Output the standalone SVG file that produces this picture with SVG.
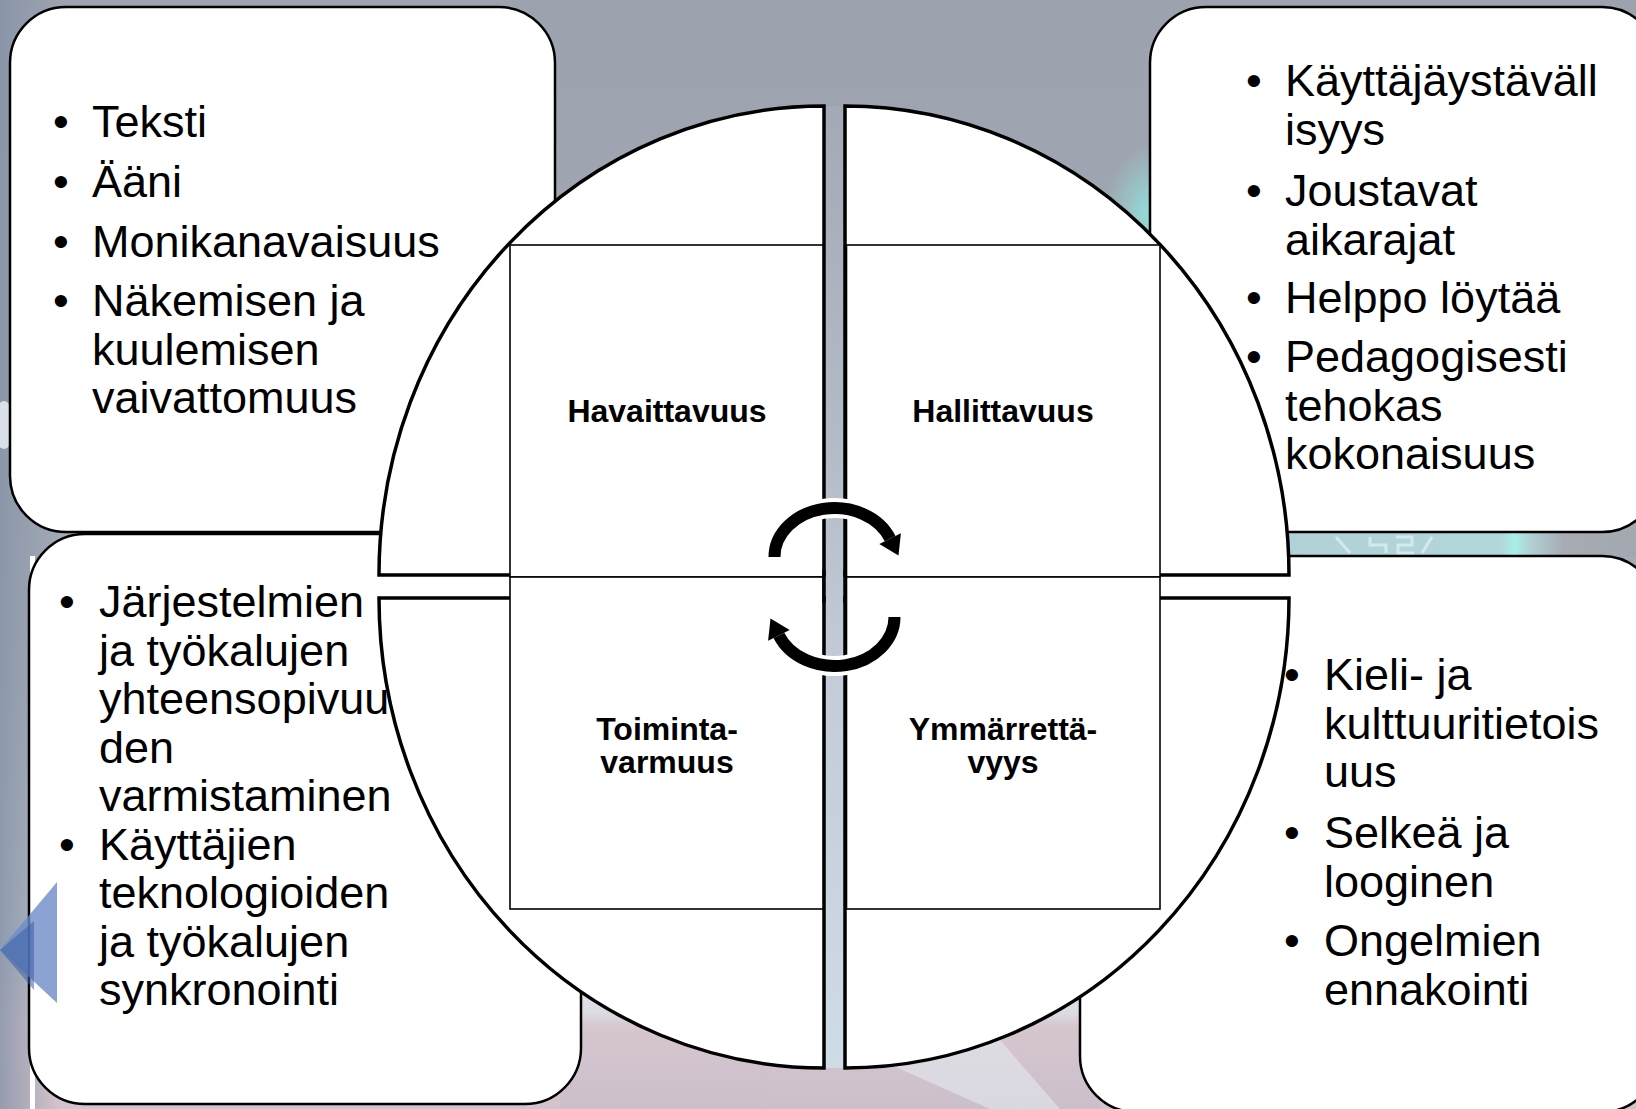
<svg xmlns="http://www.w3.org/2000/svg" width="1636" height="1109" viewBox="0 0 1636 1109">
<style>
  .box { fill:#ffffff; stroke:#000000; stroke-width:2.5; }
  .quad { fill:#ffffff; stroke:#000000; stroke-width:3.5; stroke-linejoin:miter; }
  .sq { fill:#ffffff; stroke:#000000; stroke-width:1.6; }
  .edge { stroke:#000000; stroke-width:3.5; }
  .bt { font-family:"Liberation Sans", Arial, sans-serif; font-size:45px; fill:#000000; }
  .bu { font-family:"Liberation Sans", Arial, sans-serif; font-size:45px; fill:#000000; text-anchor:middle; }
  .lbl { font-family:"Liberation Sans", Arial, sans-serif; font-size:32px; font-weight:bold; fill:#000000; text-anchor:middle; }
  .arc { fill:none; stroke:#000000; stroke-width:12; stroke-linecap:butt; }
  .halo { fill:none; stroke:#ffffff; stroke-width:20; stroke-linecap:butt; }
  .head { fill:#000000; }
  .headhalo { fill:#ffffff; stroke:#ffffff; stroke-width:8; stroke-linejoin:round; }
</style>
<defs>
  <linearGradient id="bgV" x1="0" y1="0" x2="0" y2="1">
    <stop offset="0" stop-color="#9ca3ae"/>
    <stop offset="0.55" stop-color="#a4abb6"/>
    <stop offset="0.86" stop-color="#b8bfcb"/>
    <stop offset="0.92" stop-color="#d6c6ce"/>
    <stop offset="1" stop-color="#d3c3cc"/>
  </linearGradient>
  <linearGradient id="leftSide" x1="0" y1="0" x2="1" y2="0">
    <stop offset="0" stop-color="#8592a6" stop-opacity="0.8"/>
    <stop offset="1" stop-color="#8592a6" stop-opacity="0"/>
  </linearGradient>
  <linearGradient id="bar" x1="0" y1="0" x2="0" y2="1">
    <stop offset="0" stop-color="#a3aab5"/>
    <stop offset="0.35" stop-color="#b3bbc6"/>
    <stop offset="0.6" stop-color="#c3ccd7"/>
    <stop offset="1" stop-color="#cfdbe7"/>
  </linearGradient>
  <radialGradient id="glow" cx="0.5" cy="0.5" r="0.5">
    <stop offset="0" stop-color="#8ff0e8" stop-opacity="0.75"/>
    <stop offset="1" stop-color="#8ff0e8" stop-opacity="0"/>
  </radialGradient>
  <linearGradient id="bottomBg" x1="0" y1="0" x2="0" y2="1">
    <stop offset="0" stop-color="#e0e4ec"/>
    <stop offset="0.35" stop-color="#dcdce4"/>
    <stop offset="0.45" stop-color="#d6c6ce"/>
    <stop offset="1" stop-color="#cbbfcb"/>
  </linearGradient>
  <linearGradient id="gapStrip" x1="0" y1="0" x2="1" y2="0">
    <stop offset="0" stop-color="#b0d2d6"/>
    <stop offset="0.62" stop-color="#b2d6da"/>
    <stop offset="0.66" stop-color="#a6f0e6"/>
    <stop offset="0.7" stop-color="#b4d0d4"/>
    <stop offset="0.8" stop-color="#a6abb4"/>
    <stop offset="1" stop-color="#a2a7b0"/>
  </linearGradient>
</defs>

<g id="background">
  <rect x="0" y="0" width="1636" height="1109" fill="url(#bgV)"/>
  <rect x="0" y="0" width="60" height="1109" fill="url(#leftSide)"/>
  <ellipse cx="4" cy="425" rx="10" ry="24" fill="#e8ecf2" opacity="0.85"/>
  <rect x="560" y="960" width="540" height="149" fill="url(#bottomBg)"/>
  <polygon points="880,1060 1000,1040 1060,1109 990,1109" fill="#e6ecf2" opacity="0.55"/>
  <rect x="824" y="106" width="21" height="962" fill="url(#bar)"/>
  <ellipse cx="1150" cy="215" rx="45" ry="70" fill="url(#glow)"/>
  <rect x="1280" y="531" width="356" height="26" fill="url(#gapStrip)"/>
  <g fill="none" stroke="#e4f2f4" stroke-width="3" opacity="0.7">
    <path d="M1336 537 L1350 553"/>
    <path d="M1370 537 L1370 545 L1386 545 L1386 553"/>
    <path d="M1396 537 L1412 537 L1412 545 L1398 545 L1398 553 L1414 553"/>
    <path d="M1432 537 L1422 553"/>
  </g>
  <rect x="30" y="556" width="5" height="553" fill="#ffffff"/>
</g>

<g id="box-top-left">
  <rect class="box" x="10" y="7" width="545" height="525" rx="56" ry="56"/>
  <text class="bu" x="61" y="137">•</text>
  <text class="bt" x="92" y="137">Teksti</text>
  <text class="bu" x="61" y="196.5">•</text>
  <text class="bt" x="92" y="196.5">Ääni</text>
  <text class="bu" x="61" y="257">•</text>
  <text class="bt" x="92" y="257">Monikanavaisuus</text>
  <text class="bu" x="61" y="316">•</text>
  <text class="bt" x="92" y="316">Näkemisen ja</text>
  <text class="bt" x="92" y="364.6">kuulemisen</text>
  <text class="bt" x="92" y="413.2">vaivattomuus</text>
</g>

<g id="box-top-right">
  <rect class="box" x="1150" y="7" width="508" height="525" rx="56" ry="56"/>
  <text class="bu" x="1254" y="96">•</text>
  <text class="bt" x="1285" y="96">Käyttäjäystäväll</text>
  <text class="bt" x="1285" y="144.6">isyys</text>
  <text class="bu" x="1254" y="206">•</text>
  <text class="bt" x="1285" y="206">Joustavat</text>
  <text class="bt" x="1285" y="254.6">aikarajat</text>
  <text class="bu" x="1254" y="313">•</text>
  <text class="bt" x="1285" y="313">Helppo löytää</text>
  <text class="bu" x="1254" y="372">•</text>
  <text class="bt" x="1285" y="372">Pedagogisesti</text>
  <text class="bt" x="1285" y="420.6">tehokas</text>
  <text class="bt" x="1285" y="469.2">kokonaisuus</text>
</g>

<g id="box-bottom-left">
  <rect class="box" x="29" y="534" width="552" height="570" rx="56" ry="56"/>
  <text class="bu" x="67" y="617">•</text>
  <text class="bt" x="99" y="617">Järjestelmien</text>
  <text class="bt" x="99" y="665.5">ja työkalujen</text>
  <text class="bt" x="99" y="714">yhteensopivuu</text>
  <text class="bt" x="99" y="762.5">den</text>
  <text class="bt" x="99" y="811">varmistaminen</text>
  <text class="bu" x="67" y="859.5">•</text>
  <text class="bt" x="99" y="859.5">Käyttäjien</text>
  <text class="bt" x="99" y="908">teknologioiden</text>
  <text class="bt" x="99" y="956.5">ja työkalujen</text>
  <text class="bt" x="99" y="1005">synkronointi</text>
</g>

<g id="box-bottom-right">
  <rect class="box" x="1080" y="556" width="578" height="556" rx="56" ry="56"/>
  <text class="bu" x="1292" y="690">•</text>
  <text class="bt" x="1324" y="690">Kieli- ja</text>
  <text class="bt" x="1324" y="738.6">kulttuuritietois</text>
  <text class="bt" x="1324" y="787.2">uus</text>
  <text class="bu" x="1292" y="848">•</text>
  <text class="bt" x="1324" y="848">Selkeä ja</text>
  <text class="bt" x="1324" y="896.6">looginen</text>
  <text class="bu" x="1292" y="956">•</text>
  <text class="bt" x="1324" y="956">Ongelmien</text>
  <text class="bt" x="1324" y="1004.6">ennakointi</text>
</g>

<g id="decor-triangle">
  <polygon points="0,950 57,882 57,1003" fill="#6d8cc8" opacity="0.8"/>
  <polygon points="0,950 34,921 34,990" fill="#3d5fa6" opacity="0.55"/>
</g>

<g id="circle">
  <path class="quad" d="M824 575 L379 575 A445 469 0 0 1 824 106 Z"/>
  <path class="quad" d="M845 575 L845 106 A444 469 0 0 1 1289 575 Z"/>
  <path class="quad" d="M824 598 L824 1068 A445 470 0 0 1 379 598 Z"/>
  <path class="quad" d="M845 598 L1289 598 A444 470 0 0 1 845 1068 Z"/>
</g>

<g id="node-havaittavuus">
  <rect class="sq" x="510" y="245" width="313" height="332"/>
  <text class="lbl" x="667" y="422">Havaittavuus</text>
</g>
<g id="node-hallittavuus">
  <rect class="sq" x="846.5" y="245" width="313.5" height="332"/>
  <text class="lbl" x="1003" y="422">Hallittavuus</text>
</g>
<g id="node-toimintavarmuus">
  <rect class="sq" x="510" y="577" width="313" height="332"/>
  <text class="lbl" x="667" y="740">Toiminta-</text>
  <text class="lbl" x="667" y="773">varmuus</text>
</g>
<g id="node-ymmarrettavyys">
  <rect class="sq" x="846.5" y="577" width="313.5" height="332"/>
  <text class="lbl" x="1003" y="740">Ymmärrettä-</text>
  <text class="lbl" x="1003" y="773">vyys</text>
</g>

<g id="center-edges">
  <line class="edge" x1="824" y1="570" x2="824" y2="603"/>
  <line class="edge" x1="845" y1="570" x2="845" y2="603"/>
</g>

<g id="connectors">
  <path class="halo" d="M774.5 557 A60 49 0 0 1 890.1 538.6"/>
  <polygon class="headhalo" points="900.9,533.3 879.3,543.9 898.5,555.6"/>
  <path class="halo" d="M894.5 617 A60 49 0 0 1 778.9 635.4"/>
  <polygon class="headhalo" points="789.7,630.1 768.1,640.7 770.5,618.4"/>
  <path class="arc" d="M774.5 557 A60 49 0 0 1 890.1 538.6"/>
  <polygon class="head" points="900.9,533.3 879.3,543.9 898.5,555.6"/>
  <path class="arc" d="M894.5 617 A60 49 0 0 1 778.9 635.4"/>
  <polygon class="head" points="789.7,630.1 768.1,640.7 770.5,618.4"/>
</g>
</svg>
